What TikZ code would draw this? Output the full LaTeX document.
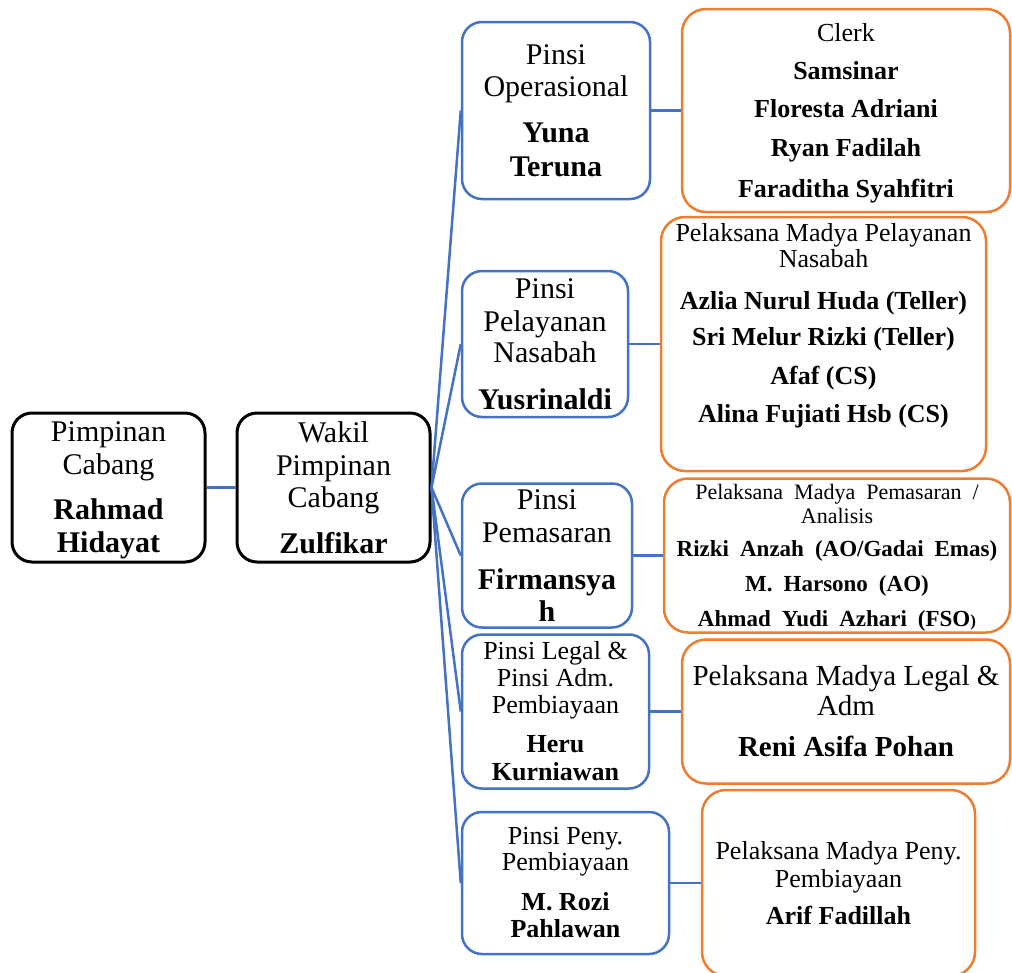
\documentclass[tikz,border=0pt]{standalone}
\usepackage{fontspec}
\setmainfont{Liberation Serif}
\definecolor{pinsiblue}{HTML}{4472C4}
\definecolor{staffor}{HTML}{ED7D31}
\newcommand\staffname[1]{{\fontsize{23}{24}\selectfont\bfseries #1}}
\tikzset{>=latex}
\tikzset{
  box/.style={draw, align=center, inner sep=0pt, line width=2.5pt, rounded corners=20pt},
  headbox/.style={box, black, line width=3pt, minimum width=193pt, minimum height=149pt,
    font=\fontsize{30}{33}\selectfont},
  pinsibox/.style={box, pinsiblue, text=black},
  staffbox/.style={box, staffor, text=black, rounded corners=24pt},
  link/.style={pinsiblue, line width=2.5pt},
}

\begin{document}
\begin{tikzpicture}[x=1pt, y=-1pt, line join=round]
    \useasboundingbox (0,0) rectangle (1012,972);
    \clip (0,0) rectangle (1012,972);

    \node[headbox] (pimpinan) at (108.5,487.5)
      {Pimpinan\\Cabang\\[12pt]\textbf{Rahmad}\\\smash{\textbf{Hidayat}}};
    \node[headbox] (wakil) at (333.5,487.5)
      {Wakil\\Pimpinan\\[-1pt]Cabang\\[13pt]\textbf{Zulfikar}};

    \node[pinsibox, minimum width=188pt, minimum height=177pt, font=\fontsize{30}{32}\selectfont]
      (operasional) at (556,110.5)
      {Pinsi\\Operasional\\[14pt]\textbf{Yuna}\\[2pt]\textbf{Teruna}};
    \node[pinsibox, minimum width=166pt, minimum height=146pt, font=\fontsize{30}{33}\selectfont]
      (pelayanan) at (545,344)
      {Pinsi\\Pelayanan\\[-2pt]Nasabah\\[14pt]\textbf{Yusrinaldi}};
    \node[pinsibox, minimum width=170pt, minimum height=144pt, font=\fontsize{30}{33}\selectfont]
      (pemasaran) at (547,555.5)
      {Pinsi\\Pemasaran\\[14pt]\textbf{Firmansya}\\[-1pt]\textbf{h}};
    \node[pinsibox, minimum width=187pt, minimum height=154pt, font=\fontsize{26}{27}\selectfont]
      (legal) at (555.5,711.5)
      {Pinsi Legal \&\\Pinsi Adm.\\Pembiayaan\\[12pt]\textbf{Heru}\\[1pt]\textbf{Kurniawan}};
    \node[pinsibox, minimum width=207pt, minimum height=142pt, font=\fontsize{26}{26}\selectfont]
      (penyelesaian) at (565.5,883)
      {Pinsi Peny.\\Pembiayaan\\[14pt]\textbf{M. Rozi}\\[1pt]\textbf{Pahlawan}};

    \node[staffbox, minimum width=328pt, minimum height=203pt, font=\fontsize{26}{38}\selectfont]
      (clerk) at (846,110.5)
      {Clerk\\\textbf{Samsinar}\\\textbf{Floresta Adriani}\\[1pt]\textbf{Ryan Fadilah}\\[3pt]\smash{\textbf{Faraditha Syahfitri}}};
    \node[staffbox, minimum width=325pt, minimum height=254pt, font=\fontsize{26}{26}\selectfont]
      (pmpelayanan) at (823.5,344)
      {Pelaksana Madya Pelayanan\\Nasabah\\[16pt]\textbf{Azlia Nurul Huda (Teller)}\\[10pt]\textbf{Sri Melur Rizki (Teller)}\\[13pt]\textbf{Afaf (CS)}\\[12pt]\textbf{Alina Fujiati Hsb (CS)}\\[16pt]\mbox{}};
    \node[staffbox, minimum width=346pt, minimum height=154pt, font={\fontsize{22}{24}\selectfont\spaceskip=11pt\relax}]
      (pmpemasaran) at (837,555.5)
      {Pelaksana Madya Pemasaran /\\Analisis\\[9pt]\staffname{Rizki Anzah (AO/Gadai Emas)}\\[11pt]\staffname{M. Harsono (AO)}\\[11pt]\smash{\staffname{Ahmad Yudi Azhari (FSO}{\fontsize{17}{24}\selectfont\bfseries )}}};
    \node[staffbox, minimum width=328pt, minimum height=144pt, font=\fontsize{29}{30}\selectfont]
      (pmlegal) at (846,711.5)
      {Pelaksana Madya Legal \&\\Adm\\[11pt]\textbf{Reni Asifa Pohan}};
    \node[staffbox, minimum width=273pt, minimum height=186pt, font=\fontsize{26}{28}\selectfont]
      (pmpeny) at (838.5,883)
      {Pelaksana Madya Peny.\\Pembiayaan\\[9pt]\textbf{Arif Fadillah}};

    \draw[link] (pimpinan) -- (wakil);
    \foreach \p/\s in {operasional/clerk, pelayanan/pmpelayanan, pemasaran/pmpemasaran,
                       legal/pmlegal, penyelesaian/pmpeny}
    {
    \draw[link] (wakil.east) -- (\p.west);
    \draw[link] (\p) -- (\s);
    }
\end{tikzpicture}
\end{document}
